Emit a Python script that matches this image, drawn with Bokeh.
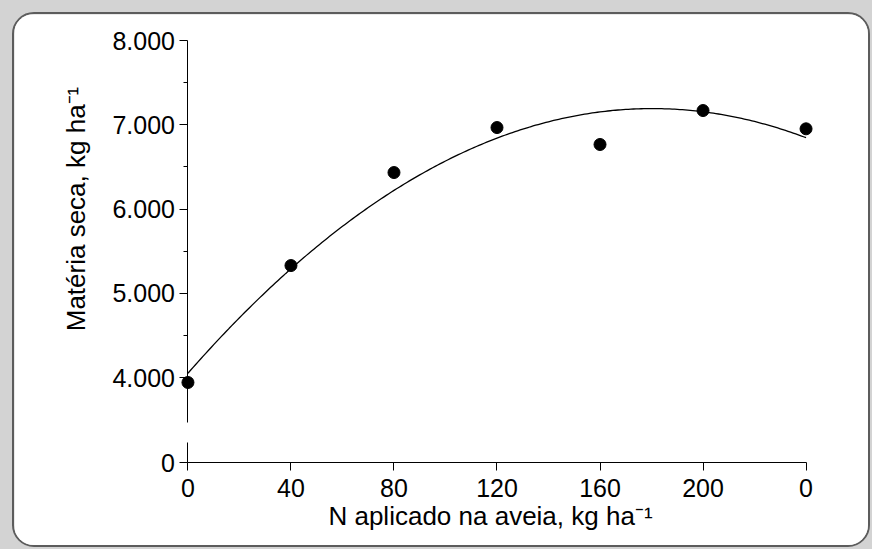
import numpy as np
from bokeh.plotting import figure
from bokeh.models import Range1d, LinearAxis, FixedTicker
from bokeh.embed import file_html
from bokeh.resources import INLINE

# ---- data ----
n_aplicado = [0, 40, 80, 120, 160, 200, 240]
materia_seca = [3941, 5329, 6433, 6967, 6766, 7169, 6952]

x_ticks = [0, 40, 80, 120, 160, 200, 240]
x_tick_labels = ["0", "40", "80", "120", "160", "200", "0"]
y_ticks = [4000, 5000, 6000, 7000, 8000]
y_tick_labels = ["4.000", "5.000", "6.000", "7.000", "8.000"]
y_minor_ticks = [4500, 5500, 6500, 7500]
y_low_ticks = [0]
y_low_labels = ["0"]

x_title = "N aplicado na aveia, kg ha\u207b\u00b9"
y_title = "Mat\u00e9ria seca, kg ha\u207b\u00b9"

# quadratic regression of the plotted points (the fitted curve)
coef = np.polyfit(n_aplicado, materia_seca, 2)
curve_x = np.linspace(min(n_aplicado), max(n_aplicado), 241)
curve_y = np.polyval(coef, curve_x)

FONT = "Liberation Sans"
FS = "25px"
FS_TITLE = "26px"
# visible window of the data space (the frame covers the whole panel so that
# axes drawn at fixed locations are not clipped)
X_START, X_END = -67.35, 264.25
Y_START, Y_END = 2006, 8309
Y_AXIS_BOTTOM = 2991      # where the broken axis / x axis sits
BREAK_LO = 3466           # lower end of the upper axis segment
LOW_SEG = 237             # length of the lower axis segment (data units)

p = figure(frame_width=854, frame_height=531,
           x_range=Range1d(X_START, X_END), y_range=Range1d(Y_START, Y_END),
           output_backend="svg", toolbar_location=None,
           min_border_left=0, min_border_right=0,
           min_border_top=0, min_border_bottom=0,
           x_axis_location=None, y_axis_location=None,
           background_fill_color="white", border_fill_color="white",
           outline_line_color=None,
           styles={"border": "2px solid #5c5c5c", "border-radius": "22px",
                   "margin": "12px 0 0 12px", "overflow": "hidden"})
p.grid.visible = False
p.extra_y_ranges = {"low": Range1d(Y_START - Y_AXIS_BOTTOM, Y_END - Y_AXIS_BOTTOM)}


def style_axis(ax):
    ax.axis_line_color = "black"
    ax.axis_line_width = 1
    ax.major_tick_line_color = "black"
    ax.minor_tick_line_color = "black"
    ax.major_tick_in = 0
    ax.major_tick_out = 8
    ax.minor_tick_in = 0
    ax.minor_tick_out = 0
    ax.major_label_text_font = FONT
    ax.major_label_text_font_size = FS
    ax.major_label_text_color = "black"
    ax.axis_label_text_font = FONT
    ax.axis_label_text_font_size = FS_TITLE
    ax.axis_label_text_font_style = "normal"
    ax.axis_label_text_color = "black"


# x axis
xa = LinearAxis(ticker=FixedTicker(ticks=x_ticks), bounds=(0, 240),
                fixed_location=Y_AXIS_BOTTOM,
                major_label_overrides={t: l for t, l in zip(x_ticks, x_tick_labels)})
style_axis(xa)
xa.major_label_standoff = 8
p.add_layout(xa, "below")

# x title
xt = LinearAxis(ticker=FixedTicker(ticks=[]), bounds=(0, 235),
                fixed_location=Y_AXIS_BOTTOM, axis_label=x_title)
style_axis(xt)
xt.axis_line_color = None
xt.major_tick_out = 0
xt.major_label_standoff = 0
xt.axis_label_standoff = 38
p.add_layout(xt, "below")

# main (upper) y axis segment
ya = LinearAxis(ticker=FixedTicker(ticks=y_ticks, minor_ticks=y_minor_ticks),
                bounds=(BREAK_LO, 8000), fixed_location=0,
                major_label_overrides={t: l for t, l in zip(y_ticks, y_tick_labels)})
style_axis(ya)
ya.minor_tick_out = 4
ya.major_label_standoff = 5
p.add_layout(ya, "left")

# lower y axis segment (broken axis, zero)
yl = LinearAxis(y_range_name="low", ticker=FixedTicker(ticks=y_low_ticks),
                bounds=(0, LOW_SEG), fixed_location=0,
                major_label_overrides={t: l for t, l in zip(y_low_ticks, y_low_labels)})
style_axis(yl)
yl.major_label_standoff = 5
p.add_layout(yl, "left")

# y title, centred on 4.000-8.000
yt = LinearAxis(ticker=FixedTicker(ticks=[]), bounds=(4000, 8000), fixed_location=0,
                axis_label=y_title)
style_axis(yt)
yt.axis_line_color = None
yt.major_tick_out = 0
yt.major_label_standoff = 0
yt.axis_label_standoff = 97
p.add_layout(yt, "left")

p.line(curve_x, curve_y, line_color="black", line_width=1.3)
p.scatter(n_aplicado, materia_seca, size=12, fill_color="black", line_color="black")

html = file_html(p, INLINE)
html = html.replace("<head>", "<head><style>html,body{background:#d3d3d3;}</style>", 1)
open("out.html", "w").write(html)
